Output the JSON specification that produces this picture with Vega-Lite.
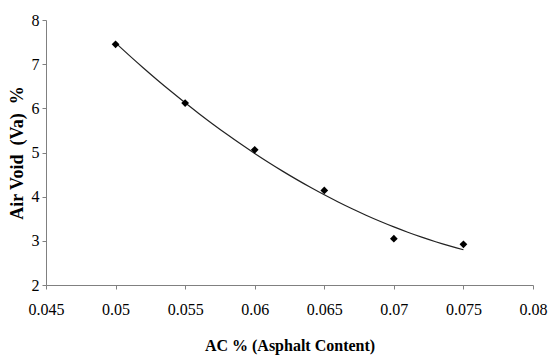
{
  "$schema": "https://vega.github.io/schema/vega-lite/v6.json",
  "autosize": "none",
  "width": 487,
  "height": 265,
  "padding": {"left": 46, "top": 20, "right": 17, "bottom": 71},
  "background": "white",
  "config": {
    "view": {"stroke": null},
    "axis": {"grid": false, "domainColor": "#808080", "tickColor": "#808080", "labelFont": "Liberation Serif", "titleFont": "Liberation Serif", "labelColor": "black", "titleColor": "black", "tickSize": 4}
  },
  "data": {"values": [
    {"ac": 0.05, "va": 7.45},
    {"ac": 0.055, "va": 6.12},
    {"ac": 0.06, "va": 5.06},
    {"ac": 0.065, "va": 4.14},
    {"ac": 0.07, "va": 3.05},
    {"ac": 0.075, "va": 2.92}
  ]},
  "layer": [
    {
      "transform": [{"regression": "va", "on": "ac", "method": "poly", "order": 2, "extent": [0.05, 0.075]}],
      "mark": {"type": "line", "color": "#222", "strokeWidth": 1.2, "interpolate": "monotone"},
      "encoding": {
        "x": {"field": "ac", "type": "quantitative"},
        "y": {"field": "va", "type": "quantitative"}
      }
    },
    {
      "mark": {"type": "point", "shape": "diamond", "filled": true, "color": "black", "size": 60, "opacity": 1},
      "encoding": {
        "x": {"field": "ac", "type": "quantitative", "scale": {"domain": [0.045, 0.08], "nice": false, "zero": false},
          "axis": {"values": [0.045, 0.05, 0.055, 0.06, 0.065, 0.07, 0.075, 0.08], "format": "~g", "labelFontSize": 16, "labelPadding": 12, "title": "AC % (Asphalt Content)", "titleFontSize": 16, "titleFontWeight": "bold", "titlePadding": 20, "labelFlush": false}},
        "y": {"field": "va", "type": "quantitative", "scale": {"domain": [2, 8], "nice": false, "zero": false},
          "axis": {"values": [2, 3, 4, 5, 6, 7, 8], "labelFontSize": 16, "labelPadding": 3, "title": "Air Void\u00a0\u00a0(Va)\u00a0\u00a0%", "titleFontSize": 18, "titleFontWeight": "bold", "titlePadding": 5}}
      }
    }
  ]
}
